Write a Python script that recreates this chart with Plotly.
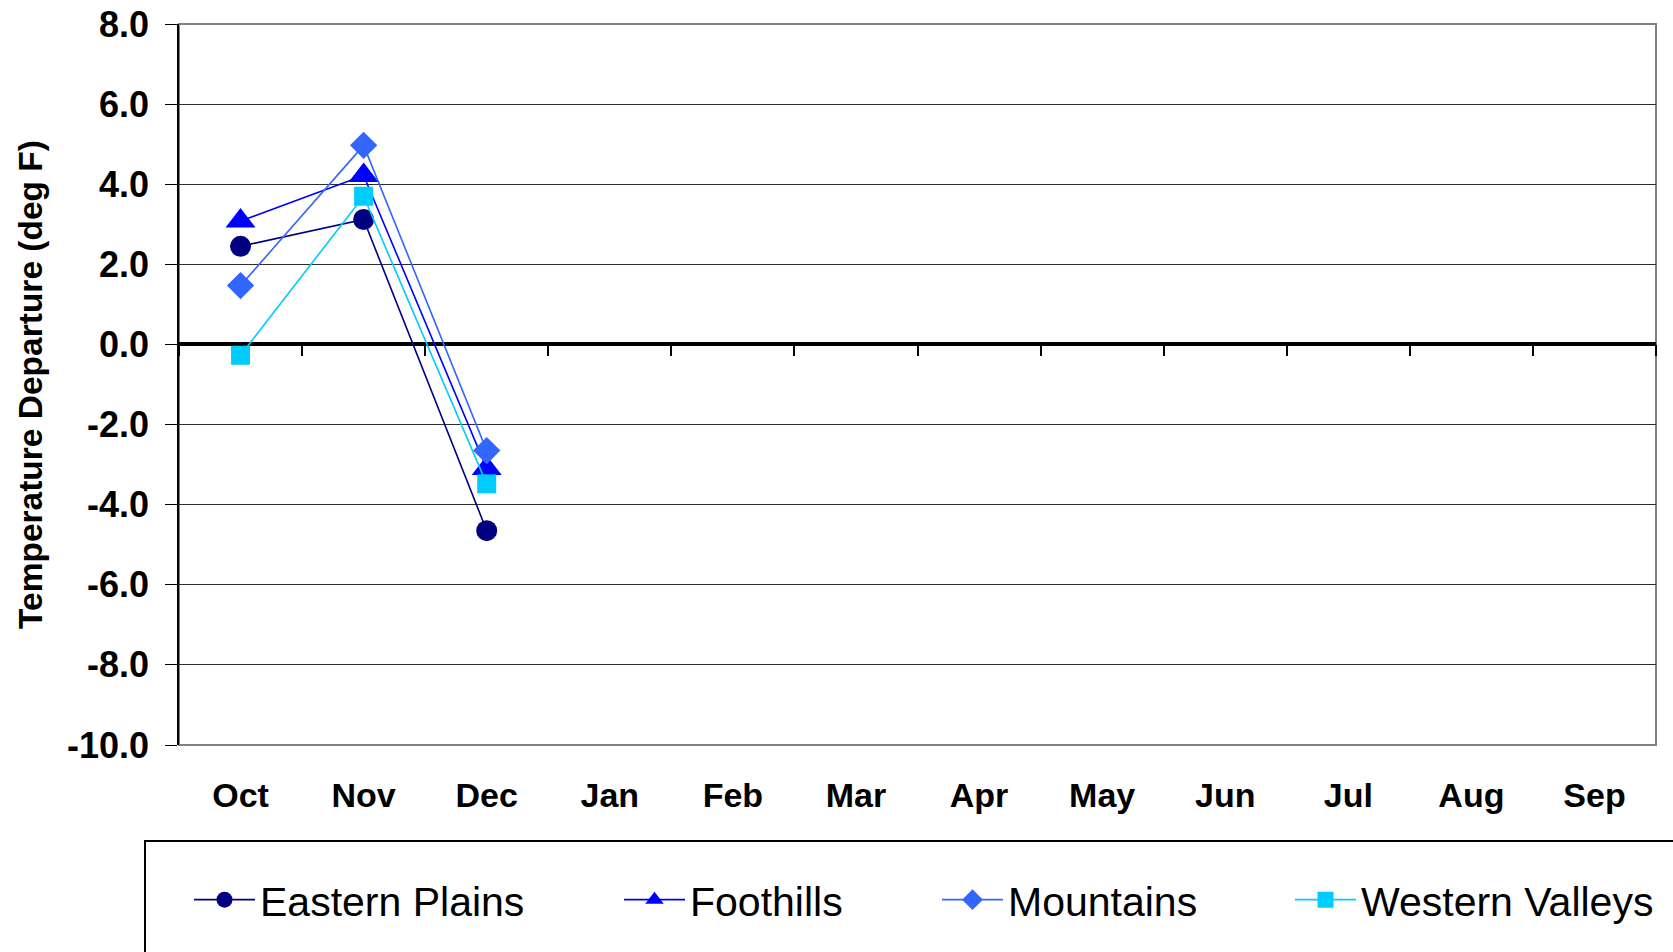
import plotly.graph_objects as go

months = ["Oct", "Nov", "Dec", "Jan", "Feb", "Mar", "Apr", "May", "Jun", "Jul", "Aug", "Sep"]
obs_months = ["Oct", "Nov", "Dec"]

eastern_plains = [2.45, 3.12, -4.65]
foothills = [3.08, 4.22, -3.10]
mountains = [1.47, 4.97, -2.65]
western_valleys = [-0.27, 3.70, -3.48]

series_names = ["Eastern Plains", "Foothills", "Mountains", "Western Valleys"]
series_values = [eastern_plains, foothills, mountains, western_valleys]
series_colors = ["#000080", "#0000FF", "#3366FF", "#00CCFF"]
series_symbols = ["circle", "triangle-up", "diamond", "square"]
series_sizes = [21, 26, 21, 19]

y_tick_vals = [8, 6, 4, 2, 0, -2, -4, -6, -8, -10]
y_tick_text = ["8.0", "6.0", "4.0", "2.0", "0.0", "-2.0", "-4.0", "-6.0", "-8.0", "-10.0"]

W, H = 1673, 952
ML, MR, MT, MB = 179, 17, 24, 207
plot_w = W - ML - MR
plot_h = H - MT - MB

FONT = "Arial, Liberation Sans, sans-serif"

legend_px = [219, 649, 967, 1320]
legend_py = 900

fig = go.Figure()
legend_ids = ["legend", "legend2", "legend3", "legend4"]
for name, vals, col, sym, sz, lid in zip(series_names, series_values, series_colors,
                                          series_symbols, series_sizes, legend_ids):
    fig.add_trace(go.Scatter(
        x=obs_months, y=vals, name=name, mode="lines+markers",
        line=dict(color=col, width=1.6),
        marker=dict(color=col, symbol=sym, size=sz, line=dict(width=0)),
        legend=lid,
    ))

# invisible trace for the tick marks axis along zero line
fig.add_trace(go.Scatter(x=months, y=[None] * len(months), xaxis="x2",
                         showlegend=False, hoverinfo="skip", mode="lines"))

layout_legends = {}
for lid, px in zip(legend_ids, legend_px):
    layout_legends[lid] = dict(
        x=(px - 30 - ML) / plot_w, xanchor="left",
        y=(H - MB - legend_py) / plot_h, yanchor="middle",
        font=dict(family=FONT, size=41, color="black"),
        bgcolor="rgba(0,0,0,0)", borderwidth=0,
        itemwidth=61, orientation="h",
    )

fig.update_layout(
    width=W, height=H,
    margin=dict(l=ML, r=MR, t=MT, b=MB, pad=0, autoexpand=False),
    paper_bgcolor="white", plot_bgcolor="white",
    showlegend=True,
    font=dict(family=FONT, color="black"),
    xaxis=dict(
        type="category", categoryorder="array", categoryarray=months,
        range=[-0.5, 11.5], showgrid=False, zeroline=False, showline=False,
        ticks="", tickfont=dict(family=FONT, size=34, color="black", weight="bold"),
        ticklabelstandoff=27,
    ),
    xaxis2=dict(
        type="category", categoryorder="array", categoryarray=months,
        range=[-0.5, 11.5], overlaying="x", anchor="free",
        position=10 / 18, side="bottom",
        showgrid=False, zeroline=False, showline=False,
        ticks="outside", tickson="boundaries", ticklen=11, tickwidth=2,
        tickcolor="black", showticklabels=False,
    ),
    yaxis=dict(
        range=[-10, 8], tickvals=y_tick_vals, ticktext=y_tick_text,
        showgrid=True, gridcolor="#2e2e2e", gridwidth=1,
        zeroline=True, zerolinecolor="black", zerolinewidth=3.5,
        showline=True, linecolor="black", linewidth=1.5,
        ticks="outside", ticklen=12, tickcolor="black", tickwidth=1,
        tickfont=dict(family=FONT, size=36, color="black", weight="bold"),
        ticklabelstandoff=9,
        title=dict(text="Temperature Departure (deg F)",
                   font=dict(family=FONT, size=33.5, color="black", weight="bold"),
                   standoff=14),
    ),
    shapes=[
        dict(type="rect", xref="x domain", yref="y domain", x0=0, x1=1, y0=0, y1=1,
             line=dict(color="#808080", width=2), fillcolor="rgba(0,0,0,0)", layer="below"),
        dict(type="rect", xref="paper", yref="paper",
             x0=(145 - ML) / plot_w, x1=(W + 20 - ML) / plot_w,
             y0=(H - MB - 841) / plot_h, y1=(H - MB - (H + 20)) / plot_h,
             line=dict(color="black", width=2), fillcolor="rgba(0,0,0,0)"),
    ],
    **layout_legends,
)

fig.write_html(
    "out.html",
    config={"displayModeBar": False},
    post_script="document.body.style.margin='0';document.body.style.overflow='hidden';",
)
